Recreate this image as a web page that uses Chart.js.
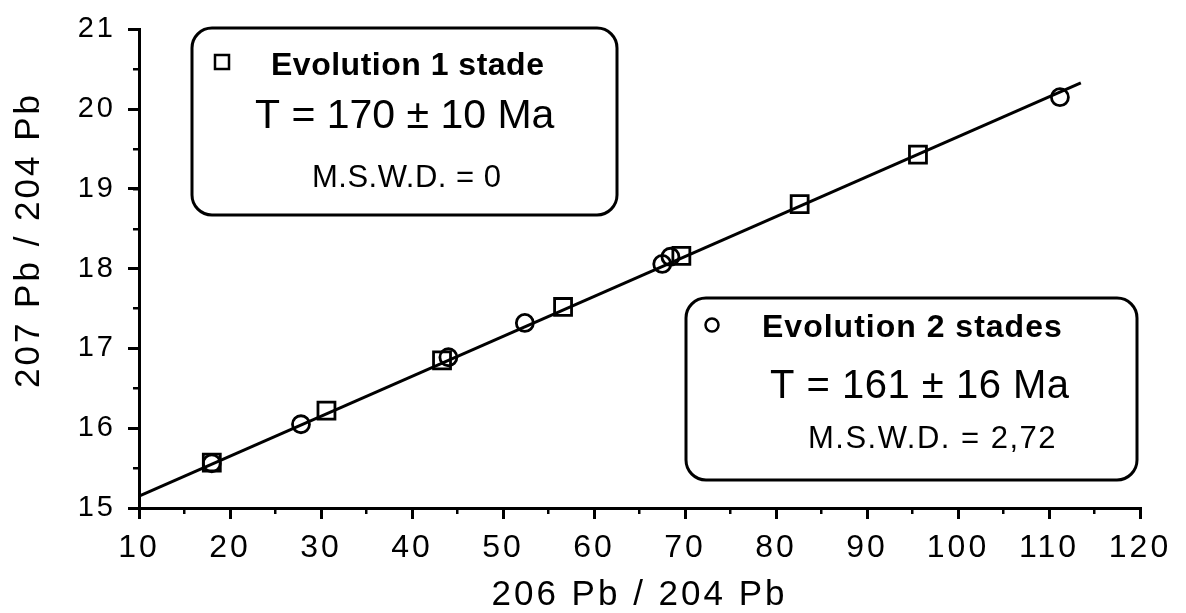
<!DOCTYPE html>
<html>
<head>
<meta charset="utf-8">
<script src="https://cdn.jsdelivr.net/npm/chart.js@4"></script>
<style>
  html, body { margin: 0; padding: 0; background: #fff; }
  canvas { display: block; }
</style>
</head>
<body>
<canvas id="chart" width="1186" height="613"></canvas>
<script>
// values
const oneStageX = [18.0, 30.6, 43.3, 56.6, 69.6, 82.6, 95.6];
const oneStageY = [15.57, 16.22, 16.85, 17.52, 18.16, 18.81, 19.43];
const twoStageX = [18.0, 27.8, 44.0, 52.4, 67.5, 68.4, 111.2];
const twoStageY = [15.56, 16.05, 16.89, 17.32, 18.06, 18.15, 20.15];
const isochronX = [10, 113.5];
const isochronY = [15.15, 20.33];

const xMin = 10, xMax = 120, xStep = 10, xMinorStep = 5;
const yMin = 15, yMax = 21, yStep = 1, yMinorStep = 0.5;

const xTitle = '206 Pb / 204 Pb';
const yTitle = '207 Pb / 204 Pb';
const box1Lines = ['Evolution 1 stade', 'T = 170 ± 10 Ma', 'M.S.W.D. = 0'];
const box2Lines = ['Evolution 2 stades', 'T = 161 ± 16 Ma', 'M.S.W.D. = 2,72'];

const FONT = '"Liberation Sans", Arial, Helvetica, sans-serif';
Chart.defaults.font.family = FONT;
Chart.defaults.color = '#000';

function points(xs, ys) {
  return xs.map((x, i) => ({ x: x, y: ys[i] }));
}

function drawBox(ctx, box, lines, marker) {
  ctx.save();
  ctx.strokeStyle = '#000';
  ctx.fillStyle = '#000';
  ctx.lineWidth = 3;
  ctx.beginPath();
  ctx.roundRect(box.x, box.y, box.w, box.h, 20);
  ctx.stroke();

  // legend glyph
  ctx.lineWidth = 2.5;
  ctx.beginPath();
  if (marker.type === 'rect') {
    ctx.rect(marker.x - 7, marker.y - 7, 14, 14);
  } else {
    ctx.arc(marker.x, marker.y, 6.5, 0, Math.PI * 2);
  }
  ctx.stroke();

  ctx.textAlign = 'left';
  ctx.textBaseline = 'alphabetic';
  lines.forEach(l => {
    ctx.font = l.font + ' ' + FONT;
    ctx.letterSpacing = l.ls + 'px';
    ctx.fillText(l.text, l.x, l.y);
  });
  ctx.restore();
}

const annotations = {
  id: 'annotations',
  beforeDraw(chart) {
    chart.ctx.letterSpacing = '3px';
  },
  afterDraw(chart) {
    const ctx = chart.ctx;
    ctx.save();
    ctx.letterSpacing = '3px';
    ctx.fillStyle = '#000';
    ctx.font = '35px ' + FONT;
    ctx.textAlign = 'center';
    ctx.textBaseline = 'middle';
    ctx.translate(29, 240);
    ctx.rotate(-Math.PI / 2);
    ctx.fillText(yTitle, 0, 0);
    ctx.restore();

    drawBox(ctx, { x: 192, y: 28, w: 425, h: 187 }, [
      { text: box1Lines[0], x: 271, y: 75, font: 'bold 32px', ls: 0.5 },
      { text: box1Lines[1], x: 255, y: 128, font: '41px', ls: 0 },
      { text: box1Lines[2], x: 312, y: 187, font: '31px', ls: 0.5 }
    ], { type: 'rect', x: 222, y: 62 });

    drawBox(ctx, { x: 686, y: 298, w: 451, h: 182 }, [
      { text: box2Lines[0], x: 762, y: 337, font: 'bold 32px', ls: 1 },
      { text: box2Lines[1], x: 770, y: 398, font: '40px', ls: 0.5 },
      { text: box2Lines[2], x: 808, y: 448, font: '31px', ls: 1.5 }
    ], { type: 'circle', x: 712, y: 325 });
  }
};

const gridMajor = { drawOnChartArea: false, drawTicks: true, tickLength: 11, color: '#000', lineWidth: 3 };
const gridMinor = { drawOnChartArea: false, drawTicks: true, tickLength: 6, color: '#000', lineWidth: 2.5 };
const axisBorder = { display: true, color: '#000', width: 3 };

new Chart(document.getElementById('chart'), {
  type: 'scatter',
  data: {
    datasets: [
      {
        type: 'line',
        label: 'isochrone',
        data: points(isochronX, isochronY),
        borderColor: '#000',
        borderWidth: 3,
        pointRadius: 0,
        fill: false,
        tension: 0,
        xAxisID: 'x',
        yAxisID: 'y'
      },
      {
        label: box1Lines[0],
        data: points(oneStageX, oneStageY),
        pointStyle: 'rect',
        pointRadius: 12,
        borderColor: '#000',
        borderWidth: 2.8,
        backgroundColor: 'rgba(0,0,0,0)',
        xAxisID: 'x',
        yAxisID: 'y'
      },
      {
        label: box2Lines[0],
        data: points(twoStageX, twoStageY),
        pointStyle: 'circle',
        pointRadius: 8.5,
        borderColor: '#000',
        borderWidth: 2.8,
        backgroundColor: 'rgba(0,0,0,0)',
        xAxisID: 'x',
        yAxisID: 'y'
      }
    ]
  },
  options: {
    responsive: false,
    animation: false,
    devicePixelRatio: 1,
    layout: { padding: { top: 22, right: 46, bottom: 0, left: 0 } },
    plugins: { legend: { display: false }, tooltip: { enabled: false } },
    scales: {
      x: {
        type: 'linear', position: 'bottom', weight: 1,
        min: xMin, max: xMax,
        ticks: { stepSize: xStep, padding: 10, font: { size: 32 }, color: '#000', maxRotation: 0, autoSkip: false },
        grid: gridMajor,
        border: axisBorder,
        title: { display: true, text: xTitle, font: { size: 35 }, color: '#000', padding: { top: 0, bottom: -3 } },
        afterFit(s) { s.height = 105; }
      },
      xMinor: {
        type: 'linear', position: 'bottom', weight: 0,
        min: xMin, max: xMax,
        ticks: { stepSize: xMinorStep, display: false, autoSkip: false },
        grid: gridMinor,
        border: { display: false },
        afterFit(s) { s.height = 0; }
      },
      y: {
        type: 'linear', position: 'left', weight: 1,
        min: yMin, max: yMax,
        ticks: { stepSize: yStep, padding: 12, font: { size: 29 }, color: '#000', autoSkip: false },
        grid: gridMajor,
        border: axisBorder,
        afterFit(s) { s.width = 139; }
      },
      yMinor: {
        type: 'linear', position: 'left', weight: 0,
        min: yMin, max: yMax,
        ticks: { stepSize: yMinorStep, display: false, autoSkip: false },
        grid: gridMinor,
        border: { display: false },
        afterFit(s) { s.width = 0; }
      }
    }
  },
  plugins: [annotations]
});
</script>
</body>
</html>
